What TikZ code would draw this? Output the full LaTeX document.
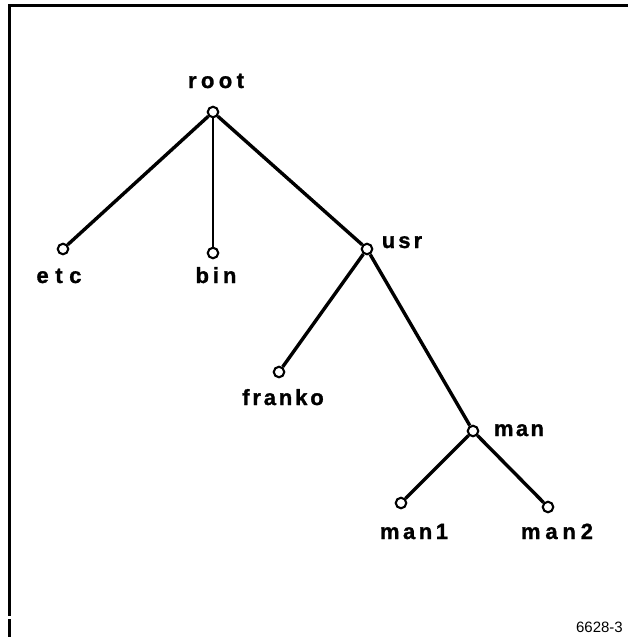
\documentclass[tikz,border=0pt]{standalone}
\usepackage{fontspec}
\setmainfont{Liberation Sans}
\newfontfamily\labelfont[FakeBold=1.2]{Liberation Sans Bold}
\begin{document}
\begin{tikzpicture}[x=1pt,y=-1pt,
  dirnode/.style={circle,draw,line width=2.1pt,fill=white,minimum size=10.5pt,inner sep=0pt},
  dirlabel/.style={anchor=base,inner sep=0pt,
    font=\labelfont\fontsize{22}{26}\selectfont\addfontfeatures{LetterSpace=#1}},
  dirlabel/.default=15,
  thickedge/.style={line width=3.4pt},
  thinedge/.style={line width=1.9pt},
  frame/.style={line width=2.6pt}]
\useasboundingbox (0,0) rectangle (628,637);

% frame (top and left sides only)
\coordinate (tl) at (9.5,5.5);
\coordinate (tr) at (628,5.5);
\coordinate (lgapA) at (9.5,616);
\coordinate (lgapB) at (9.5,619);
\coordinate (bl) at (9.5,637);
\draw[frame] (tr) -- (tl) -- (lgapA);
\draw[frame] (lgapB) -- (bl);

% directory tree
\node[dirnode] (root)   at (213,112) {};
\node[dirnode] (etc)    at (63,249) {};
\node[dirnode] (bin)    at (213,253) {};
\node[dirnode] (usr)    at (367,249) {};
\node[dirnode] (franko) at (279,372) {};
\node[dirnode] (man)    at (473,431) {};
\node[dirnode] (man1)   at (401,503) {};
\node[dirnode] (man2)   at (548,507) {};

\draw[thickedge] (root) -- (etc);
\draw[thinedge]  (root) -- (bin);
\draw[thickedge] (root) -- (usr);
\draw[thickedge] (usr) -- (franko);
\draw[thickedge] (usr) -- (man);
\draw[thickedge] (man) -- (man1);
\draw[thickedge] (man) -- (man2);

% labels
\node[dirlabel=20] (lroot)   at (216,88)  {root};
\node[dirlabel=30] (letc)    at (59,283)  {etc};
\node[dirlabel=18] (lbin)    at (216,283) {bin};
\node[dirlabel=14] (lusr)    at (402,248) {usr};
\node[dirlabel=13] (lfranko) at (283,405) {franko};
\node[dirlabel=11] (lman)    at (519,436) {man};
\node[dirlabel=16] (lman1)   at (414,539) {man1};
\node[dirlabel=22] (lman2)   at (557,539) {man2};

\node[anchor=base east,inner sep=0pt,font=\fontsize{15}{18}\selectfont] (fig) at (623,632) {6628-3};
\end{tikzpicture}
\end{document}
